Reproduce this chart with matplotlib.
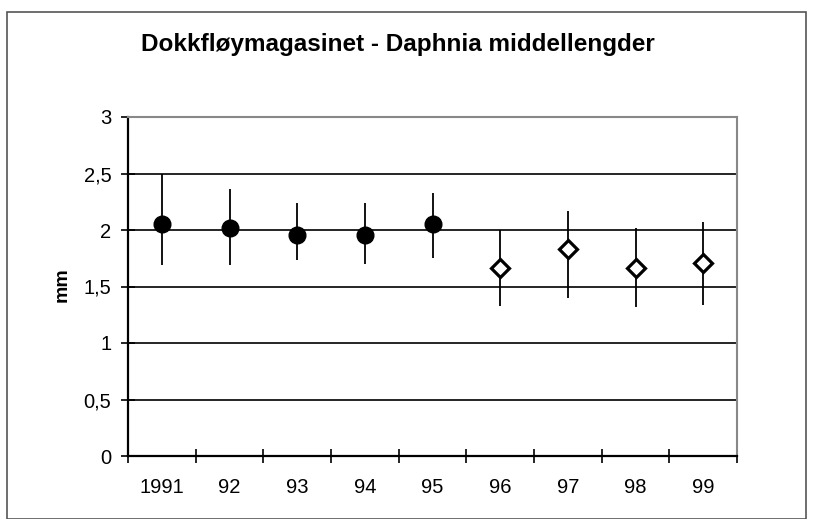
import matplotlib.pyplot as plt
from matplotlib.patches import Rectangle

# Data
years = ['1991', '92', '93', '94', '95', '96', '97', '98', '99']
mean_len = [2.05, 2.02, 1.955, 1.955, 2.05, 1.66, 1.83, 1.66, 1.71]
upper = [2.50, 2.36, 2.24, 2.24, 2.33, 2.00, 2.17, 2.02, 2.07]
lower = [1.69, 1.69, 1.735, 1.70, 1.755, 1.33, 1.40, 1.32, 1.34]
n_filled = 5  # first five years filled circles, rest open diamonds

plt.rcParams['font.family'] = ['Liberation Sans', 'DejaVu Sans']

fig = plt.figure(figsize=(8.13, 5.19), dpi=100)
ax = fig.add_axes([128 / 813, 1 - 456 / 519, 609 / 813, 339 / 519])

x = list(range(len(years)))
ax.vlines(x, lower, upper, color='black', lw=1.3, zorder=3)
ax.plot(x[:n_filled], mean_len[:n_filled], 'o', color='black', ms=12, zorder=4)
ax.plot(x[n_filled:], mean_len[n_filled:], 'D', mfc='white', mec='black',
        mew=2.3, ms=9, zorder=4)

ax.set_xlim(-0.5, len(years) - 0.5)
ax.set_ylim(0, 3)
ax.set_yticks([0, 0.5, 1, 1.5, 2, 2.5, 3])
ax.set_yticklabels(['0', '0,5', '1', '1,5', '2', '2,5', '3'], fontsize=14.5)
ax.set_xticks(x)
ax.set_xticklabels(years, fontsize=14.5)
ax.tick_params(axis='x', length=0, pad=16)
ax.set_xticks([i + 0.5 for i in range(-1, len(years))], minor=True)
ax.tick_params(axis='x', which='minor', direction='inout', length=10, width=1.2)
ax.tick_params(axis='y', direction='inout', length=10, width=1.2, pad=7)

ax.yaxis.grid(True, color='black', lw=1.2)
ax.set_axisbelow(True)
for s in ['left', 'bottom']:
    ax.spines[s].set_linewidth(1.6)
for s in ['top', 'right']:
    ax.spines[s].set_color('#888888')
    ax.spines[s].set_linewidth(1.5)

fig.text(62 / 813, 1 - 285 / 519, 'mm', rotation=90, ha='center', va='center',
         fontsize=14, fontweight='bold')
fig.text(398 / 813, 1 - 51 / 519, 'Dokkfløymagasinet - Daphnia middellengder',
         ha='center', va='baseline', fontsize=17.5, fontweight='bold')

# outer chart border
fig.patches.append(Rectangle((7 / 813, 0), 799 / 813, 1 - 12 / 519,
                             transform=fig.transFigure, fill=False,
                             ec='#555555', lw=1.2))

fig.savefig('out.png', dpi=100)
